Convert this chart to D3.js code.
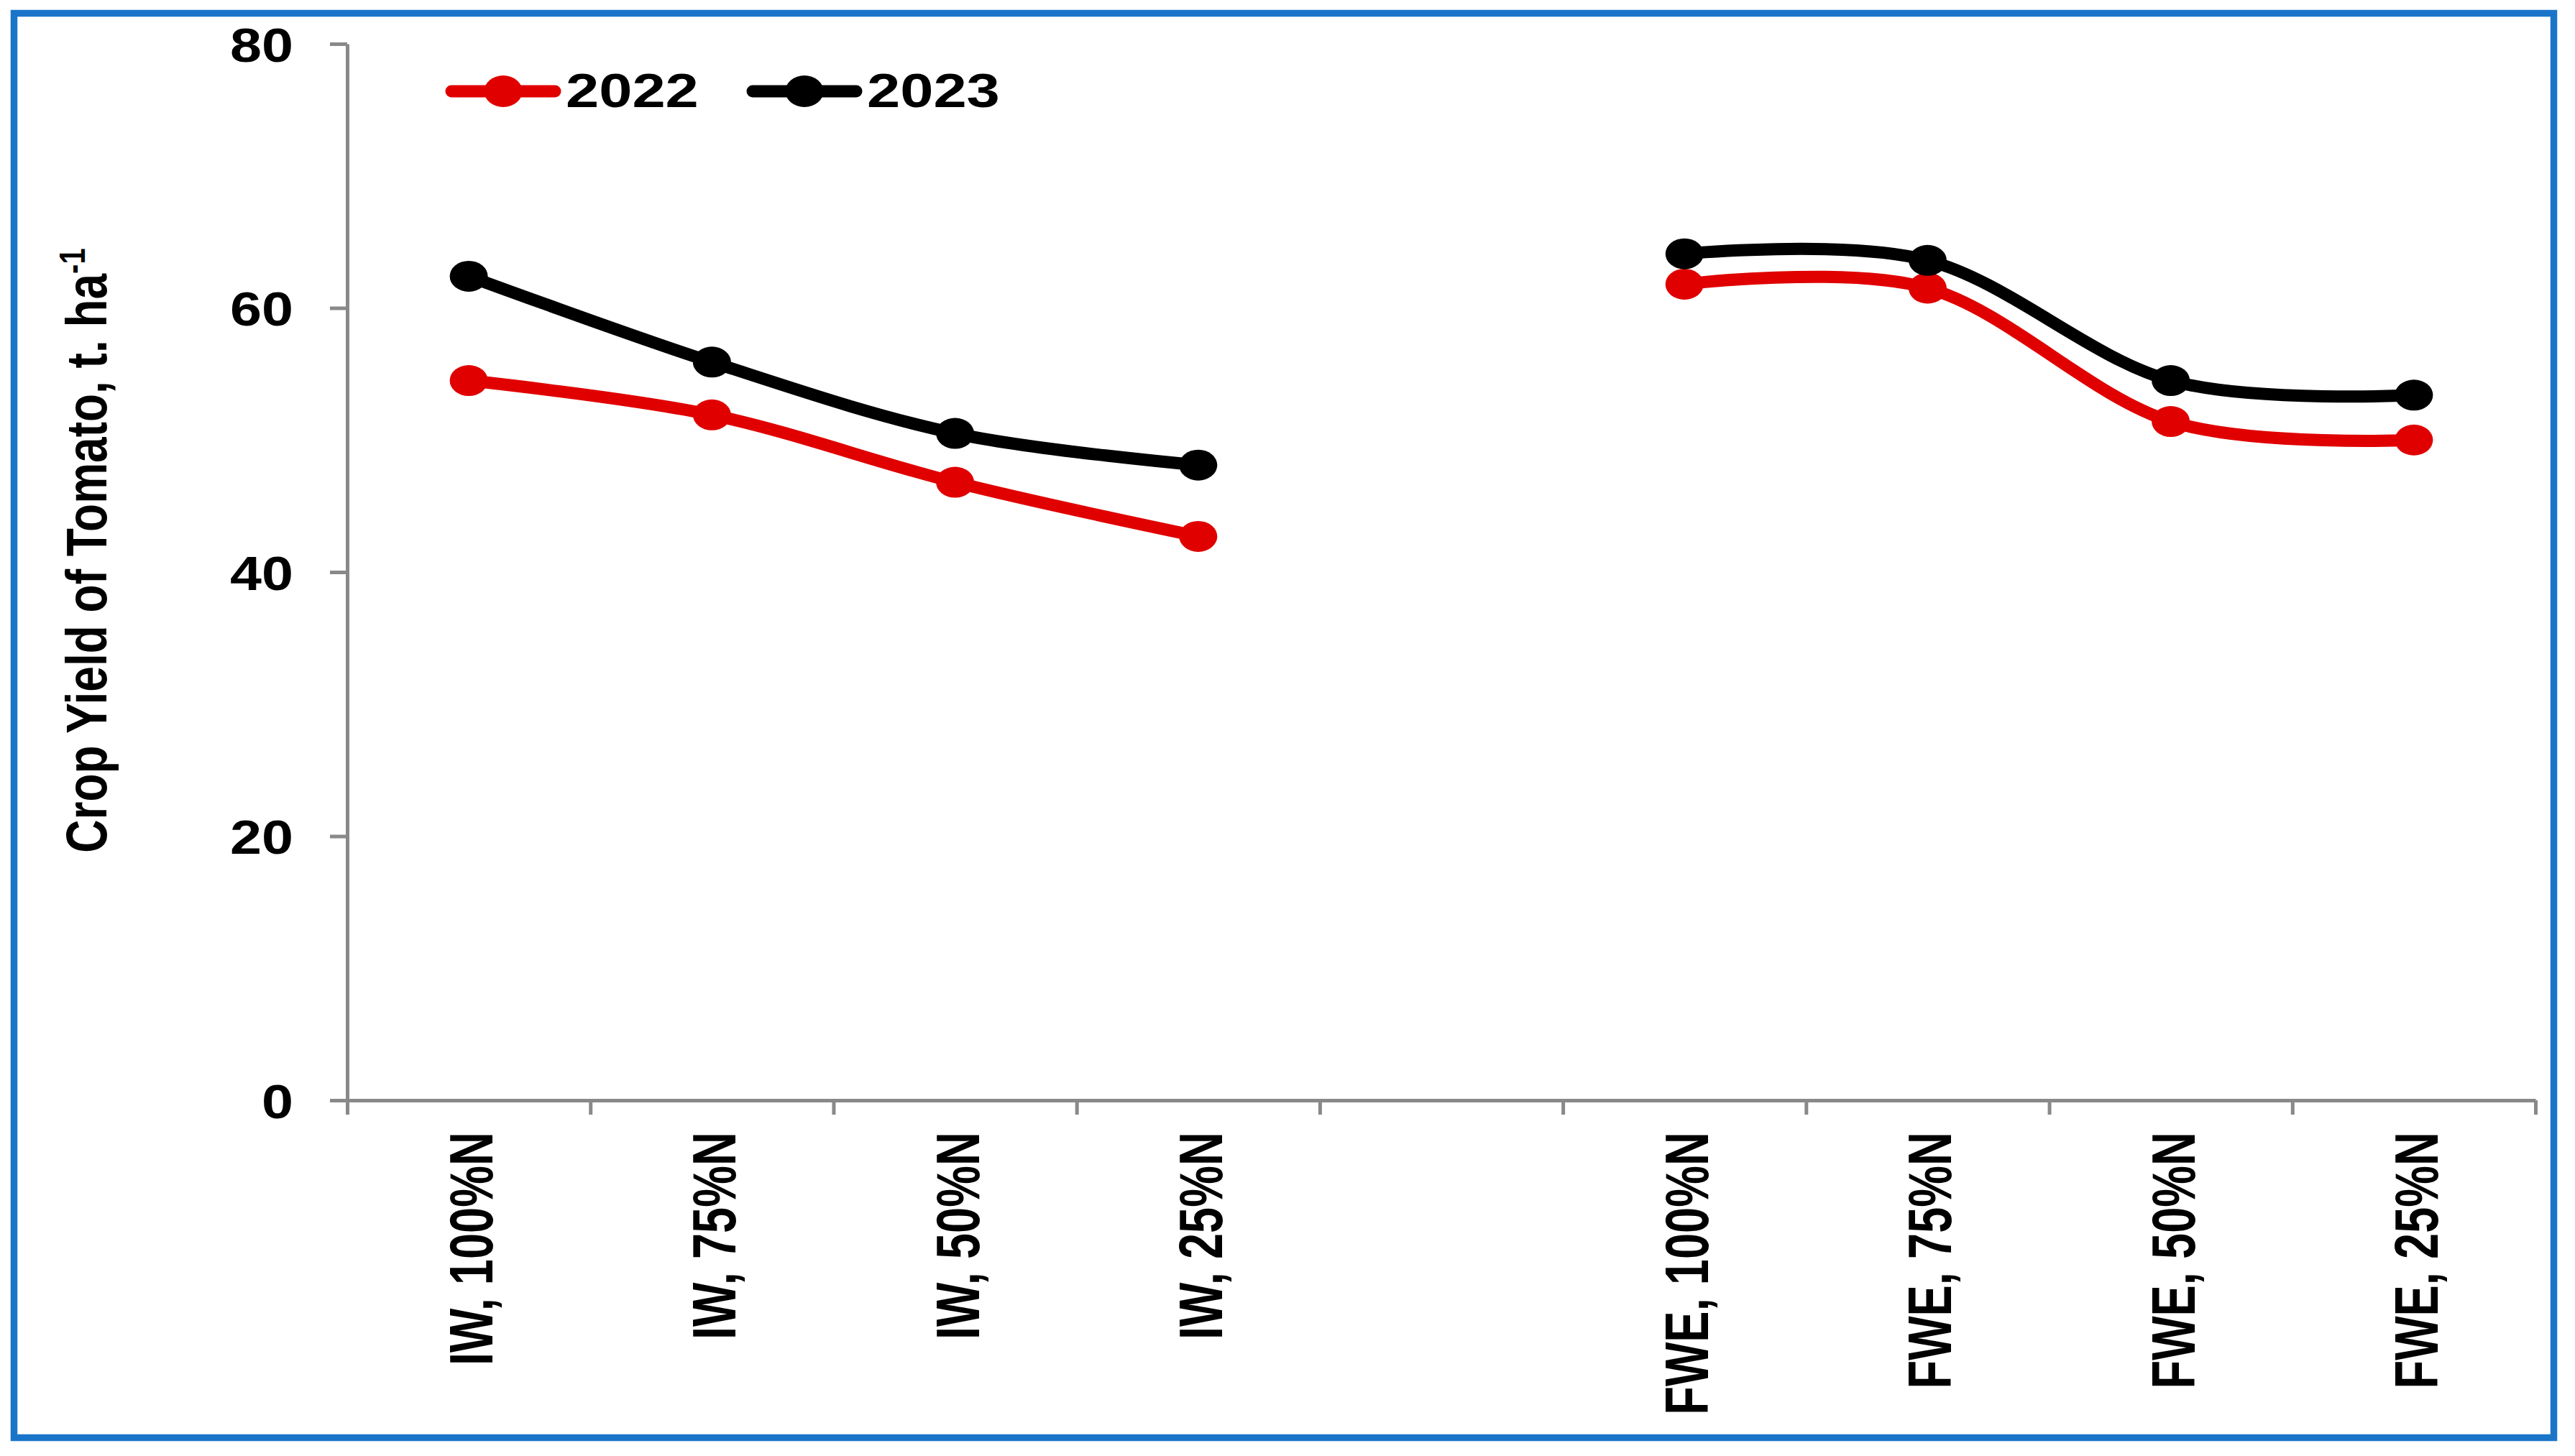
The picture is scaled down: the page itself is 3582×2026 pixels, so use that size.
<!DOCTYPE html>
<html><head><meta charset="utf-8">
<script src="https://cdn.jsdelivr.net/npm/d3@7"></script>
<style>html,body{margin:0;padding:0;background:#fff;overflow:hidden}</style>
</head><body>
<svg id="chart" width="3582" height="2026"></svg>
<script>
const categories = ["IW, 100%N","IW, 75%N","IW, 50%N","IW, 25%N","","FWE, 100%N","FWE, 75%N","FWE, 50%N","FWE, 25%N"];
const seriesNames = ["2022","2023"];
const yield2022 = [54.5,51.9,46.8,42.7,null,61.8,61.5,51.4,50.0];
const yield2023 = [62.4,55.9,50.5,48.1,null,64.1,63.6,54.5,53.4];
const yTicks = [0,20,40,60,80];
const seriesColors = ["#e00000","#000000"];
const yTitle = "Crop Yield of Tomato, t. ha";
const yTitleSup = "-1";

const W = 3582, H = 2026;
const plot = {left:483, right:3527, top:61, bottom:1531};
const FONT = "'Liberation Sans', Arial, sans-serif";
const AXIS = "#898989";

const svg = d3.select("#chart");
svg.append("rect").attr("width",W).attr("height",H).attr("fill","#fff");
// outer blue frame
svg.append("rect").attr("x",19.5).attr("y",18.5).attr("width",3552.5-19.5).attr("height",2000.5-18.5)
  .attr("fill","none").attr("stroke","#1a75c9").attr("stroke-width",9.5);

const x = d3.scaleBand().domain(d3.range(categories.length)).range([plot.left, plot.right]).padding(0);
const xEdge = d3.scaleLinear().domain([0, categories.length]).range([plot.left, plot.right]);
const y = d3.scaleLinear().domain([0,80]).range([plot.bottom, plot.top]);
const cx = i => x(i) + x.bandwidth()/2;

// Y axis
const yAxis = svg.append("g").attr("transform",`translate(${plot.left},0)`)
  .call(d3.axisLeft(y).tickValues(yTicks).tickSize(24).tickSizeOuter(0).tickFormat(d3.format("d")));
yAxis.select(".domain").attr("stroke",AXIS).attr("stroke-width",5);
yAxis.selectAll(".tick line").attr("stroke",AXIS).attr("stroke-width",5);
yAxis.selectAll(".tick text").attr("x",0).attr("dy","0.36em")
  .attr("transform","translate(-75,0) scale(1.18,1)")
  .attr("font-family",FONT).attr("font-weight","bold").attr("font-size",67).attr("fill","#000")
  .attr("text-anchor","end");

// X axis (ticks at category boundaries)
const xAxis = svg.append("g").attr("transform",`translate(0,${plot.bottom})`)
  .call(d3.axisBottom(xEdge).tickValues(d3.range(categories.length+1)).tickSize(20).tickSizeOuter(0).tickFormat(""));
xAxis.select(".domain").attr("stroke",AXIS).attr("stroke-width",5);
xAxis.selectAll(".tick line").attr("stroke",AXIS).attr("stroke-width",5);

// X labels rotated
svg.append("g").selectAll("text").data(categories).join("text")
  .attr("transform",(d,i)=>`translate(${cx(i)+33},1575) rotate(-90) scale(1,1.3)`)
  .attr("text-anchor","end")
  .attr("font-family",FONT).attr("font-weight","bold").attr("font-size",65).attr("fill","#000")
  .text(d=>d);

// Y title
const yt = svg.append("text")
  .attr("transform","translate(148,766) rotate(-90) scale(1,1.24)")
  .attr("text-anchor","middle")
  .attr("font-family",FONT).attr("font-weight","bold").attr("font-size",64).attr("fill","#000");
yt.append("tspan").text(yTitle);
yt.append("tspan").attr("font-size",40).attr("dy",-24).text(yTitleSup);

// Series
const series = [yield2022, yield2023];
const line = d3.line()
  .defined(d => d.v != null)
  .x(d => cx(d.i)).y(d => y(d.v))
  .curve(d3.curveCardinal.tension(0));

series.forEach((vals, s) => {
  const pts = vals.map((v,i)=>({i, v}));
  svg.append("path").datum(pts).attr("d", line)
    .attr("fill","none").attr("stroke",seriesColors[s]).attr("stroke-width",17)
    .attr("stroke-linecap","round").attr("stroke-linejoin","round");
  svg.append("g").selectAll("ellipse").data(pts.filter(d=>d.v!=null)).join("ellipse")
    .attr("cx",d=>cx(d.i)).attr("cy",d=>y(d.v)).attr("rx",26.5).attr("ry",21.5)
    .attr("fill",seriesColors[s]);
});

// Legend
const legendX = [620, 1039];
seriesNames.forEach((name, s) => {
  const g = svg.append("g");
  const lx = legendX[s];
  g.append("line").attr("x1",lx+8).attr("x2",lx+152).attr("y1",127).attr("y2",127)
    .attr("stroke",seriesColors[s]).attr("stroke-width",17).attr("stroke-linecap","round");
  g.append("ellipse").attr("cx",lx+80).attr("cy",127).attr("rx",26.5).attr("ry",22).attr("fill",seriesColors[s]);
  g.append("text").attr("transform",`translate(${lx+167},149) scale(1.24,1)`)
    .attr("font-family",FONT).attr("font-weight","bold").attr("font-size",67).attr("fill","#000")
    .text(name);
});
</script>
</body></html>
